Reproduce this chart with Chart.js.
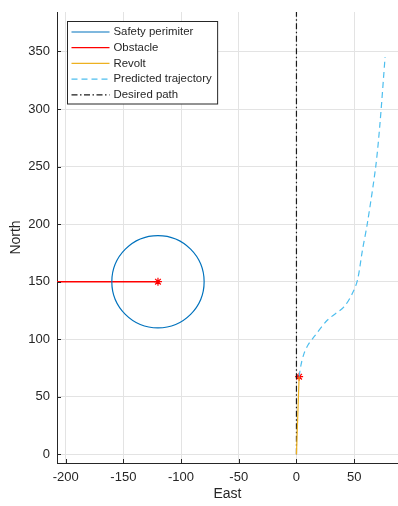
<!DOCTYPE html>
<html lang="en">
<head>
    <meta charset="UTF-8">
    <title>Collision avoidance</title>
    <style>
        html, body { margin: 0; padding: 0; background: #fff; }
        #wrap { width: 398px; height: 506px; }
    </style>
</head>
<body>
    <div id="wrap"><canvas id="pathChart" width="398" height="506"></canvas></div>

    <script src="https://cdn.jsdelivr.net/npm/chart.js@4.4.1/dist/chart.umd.min.js"></script>
    <script>
        // axis ticks
        const eastTicks = [-200, -150, -100, -50, 0, 50];
        const northTicks = [0, 50, 100, 150, 200, 250, 300, 350];

        // safety perimeter around the obstacle (centre + radius, in data units)
        const perimeterEast = [-120];
        const perimeterNorth = [150];
        const perimeterRadius = 40;

        // obstacle track
        const obstacleEast = [-210, -120];
        const obstacleNorth = [150, 150];

        // Revolt track
        const revoltEast = [0, 2.3];
        const revoltNorth = [0, 67.5];

        // predicted trajectory
        const predictedEast = [2.3, 4, 6.6, 10, 15.3, 26.9, 41.2, 48.5, 52.9, 57.2, 61.5, 68.7, 72.4, 76.8];
        const predictedNorth = [67.5, 78, 87.7, 95, 102.2, 116.7, 128.2, 139.9, 151.4, 177.5, 201, 250, 287.6, 345];

        // desired path
        const desiredEast = [0, 0];
        const desiredNorth = [0, 400];

        // current positions (red stars)
        const markerEast = [-120, 2.3];
        const markerNorth = [150, 67.5];

        const toPoints = (xs, ys) => xs.map((x, i) => ({ x: x, y: ys[i] }));

        const axisColor = '#262626';
        const gridColor = '#e3e3e3';
        const font = 'Liberation Sans, Arial, Helvetica, sans-serif';

        // small inward tick marks like MATLAB
        const innerTicks = {
            id: 'innerTicks',
            afterDraw(chart) {
                const { ctx, chartArea, scales } = chart;
                ctx.save();
                ctx.strokeStyle = axisColor;
                ctx.lineWidth = 1;
                ctx.beginPath();
                eastTicks.forEach(v => {
                    const px = Math.round(scales.x.getPixelForValue(v)) + 0.5;
                    ctx.moveTo(px, chartArea.bottom);
                    ctx.lineTo(px, chartArea.bottom - 4);
                });
                northTicks.forEach(v => {
                    const py = Math.round(scales.y.getPixelForValue(v)) + 0.5;
                    ctx.moveTo(chartArea.left, py);
                    ctx.lineTo(chartArea.left + 4, py);
                });
                ctx.stroke();
                ctx.restore();
            }
        };

        // legend box inside the plot, upper left
        const insideLegend = {
            id: 'insideLegend',
            afterDraw(chart) {
                const { ctx, chartArea } = chart;
                const items = chart.data.datasets.filter(d => !d.hideInLegend);
                ctx.save();
                ctx.font = '11.4px ' + font;
                const textW = Math.max(...items.map(d => ctx.measureText(d.label).width));
                const x0 = chartArea.left + 10.5, y0 = chartArea.top + 9.5;
                const rowH = 15.7;
                const w = 4 + 38 + 4 + textW + 6;
                const h = rowH * items.length + 4;
                ctx.fillStyle = '#fff';
                ctx.fillRect(x0, y0, w, h);
                ctx.strokeStyle = axisColor;
                ctx.lineWidth = 1;
                ctx.strokeRect(x0, y0, w, h);
                items.forEach((d, i) => {
                    const cy = y0 + 10.5 + i * rowH;
                    ctx.beginPath();
                    ctx.strokeStyle = d.borderColor;
                    ctx.lineWidth = 1.2;
                    ctx.setLineDash(d.borderDash || []);
                    ctx.moveTo(x0 + 4, cy);
                    ctx.lineTo(x0 + 42, cy);
                    ctx.stroke();
                    ctx.setLineDash([]);
                    ctx.fillStyle = axisColor;
                    ctx.textBaseline = 'middle';
                    ctx.fillText(d.label, x0 + 46, cy);
                });
                ctx.restore();
            }
        };

        const lineSet = (label, pts, color, extra) => Object.assign({
            label: label,
            data: pts,
            showLine: true,
            borderColor: color,
            borderWidth: 1.2,
            pointRadius: 0,
            fill: false
        }, extra || {});

        const ctx = document.getElementById('pathChart').getContext('2d');
        const chart = new Chart(ctx, {
            type: 'scatter',
            data: {
                datasets: [
                    {
                        label: 'Safety perimiter',
                        data: toPoints(perimeterEast, perimeterNorth),
                        borderColor: '#0072BD',
                        backgroundColor: 'rgba(0,0,0,0)',
                        pointBorderColor: '#0072BD',
                        pointBackgroundColor: 'rgba(0,0,0,0)',
                        pointBorderWidth: 1.2,
                        pointStyle: 'circle',
                        // radius follows the x scale so the circle stays in data units
                        pointRadius: c => {
                            const s = c.chart.scales.x;
                            return Math.abs(s.getPixelForValue(perimeterEast[0] + perimeterRadius) - s.getPixelForValue(perimeterEast[0]));
                        },
                        showLine: false
                    },
                    lineSet('Obstacle', toPoints(obstacleEast, obstacleNorth), '#FF0000', { borderWidth: 1.4 }),
                    lineSet('Revolt', toPoints(revoltEast, revoltNorth), '#EDB120'),
                    lineSet('Predicted trajectory', toPoints(predictedEast, predictedNorth), '#4DBEEE', {
                        borderDash: [6, 4], tension: 0.3
                    }),
                    lineSet('Desired path', toPoints(desiredEast, desiredNorth), '#1a1a1a', {
                        borderDash: [6, 2.5, 1.5, 2.5]
                    }),
                    {
                        label: 'markers',
                        hideInLegend: true,
                        data: toPoints(markerEast, markerNorth),
                        pointStyle: 'star',
                        pointRadius: 4,
                        pointBorderColor: '#FF0000',
                        pointBorderWidth: 1.2,
                        showLine: false
                    }
                ]
            },
            options: {
                responsive: false,
                animation: false,
                events: [],
                layout: { autoPadding: false, padding: { top: 12, right: 0, left: 0, bottom: 0 } },
                plugins: {
                    legend: { display: false },
                    tooltip: { enabled: false }
                },
                scales: {
                    x: {
                        type: 'linear',
                        min: -207.5,
                        max: 88,
                        afterBuildTicks: s => { s.ticks = eastTicks.map(v => ({ value: v })); },
                        afterFit: s => { s.height = 43; s.paddingLeft = 0; s.paddingRight = 0; },
                        grid: { color: gridColor, drawTicks: false },
                        border: { display: true, color: axisColor, width: 1 },
                        ticks: { color: axisColor, padding: 7, font: { family: font, size: 13 } },
                        title: {
                            display: true, text: 'East', color: axisColor,
                            font: { family: font, size: 14 }, padding: { top: 0, bottom: 3 }
                        }
                    },
                    y: {
                        type: 'linear',
                        min: -7.5,
                        max: 384.3,
                        afterBuildTicks: s => { s.ticks = northTicks.map(v => ({ value: v })); },
                        afterFit: s => { s.width = 57; s.paddingTop = 0; s.paddingBottom = 0; },
                        grid: { color: gridColor, drawTicks: false },
                        border: { display: true, color: axisColor, width: 1 },
                        ticks: { color: axisColor, padding: 7, font: { family: font, size: 13 } },
                        title: {
                            display: true, text: 'North', color: axisColor,
                            font: { family: font, size: 14 }, padding: { top: 8, bottom: 0 }
                        }
                    }
                }
            },
            plugins: [innerTicks, insideLegend]
        });
    </script>
</body>
</html>
